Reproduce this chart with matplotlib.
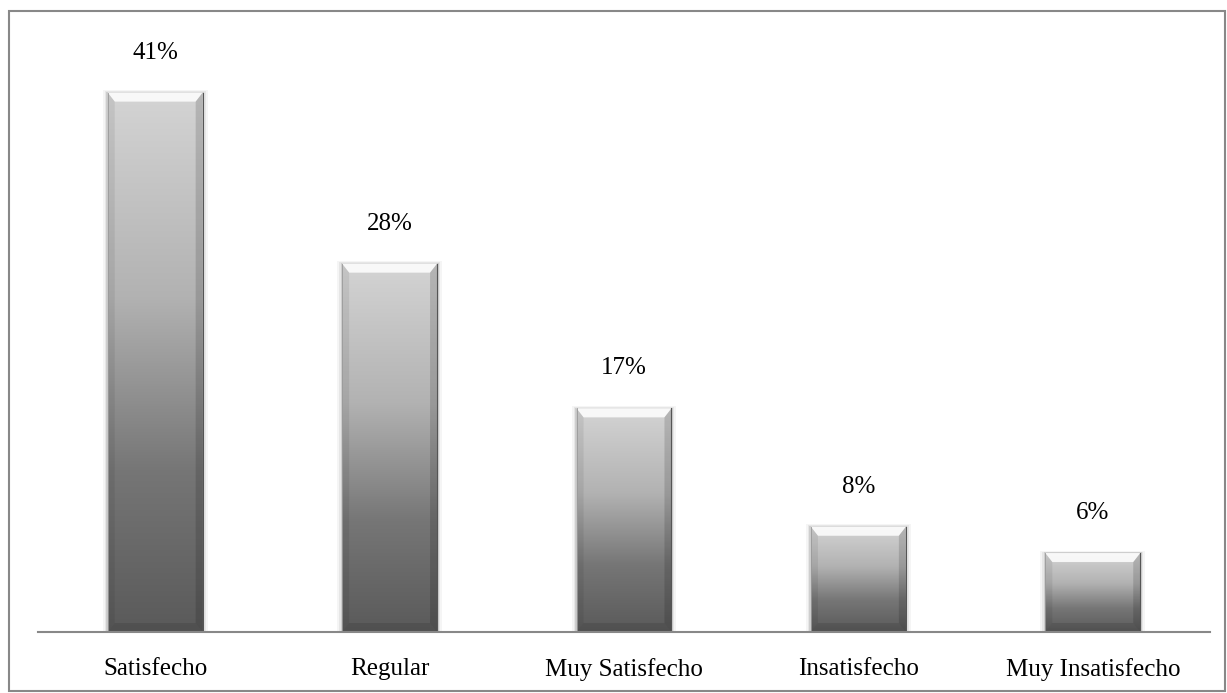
import numpy as np
import matplotlib
matplotlib.use("Agg")
from matplotlib import pyplot as plt
from matplotlib.patches import Rectangle, Polygon

categorias = ["Satisfecho", "Regular", "Muy Satisfecho", "Insatisfecho", "Muy Insatisfecho"]
porcentajes = [41, 28, 17, 8, 6]
etiquetas = ["41%", "28%", "17%", "8%", "6%"]

plt.rcParams['font.family'] = ['Liberation Serif', 'DejaVu Serif']

W, H = 1227, 693
fig = plt.figure(figsize=(W / 100, H / 100), dpi=100)

# area del grafico en pixeles: x 38..1210, y 40..632 (desde arriba)
x0, x1, ytop, ybot = 38, 1210, 40, 632
ax = fig.add_axes([x0 / W, 1 - ybot / H, (x1 - x0) / W, (ybot - ytop) / H])
ymax = 45
ax.set_xlim(-0.5, len(categorias) - 0.5)
ax.set_ylim(0, ymax)

ancho = 0.405
bars = ax.bar(range(len(categorias)), porcentajes, width=ancho, color='none')

# pixeles -> unidades de datos
px_x = len(categorias) / (x1 - x0)
px_y = ymax / (ybot - ytop)

# degradado gris vertical, claro arriba y oscuro abajo
grad = np.linspace(0, 1, 256).reshape(-1, 1)
cmap = matplotlib.colors.LinearSegmentedColormap.from_list(
    "gris", [(0, "#5a5a5a"), (0.3, "#767676"), (0.62, "#b2b2b2"), (1, "#d4d4d4")])

for b in bars:
    bx, bw, bh = b.get_x(), b.get_width(), b.get_height()
    # sombra suave
    for k, a in [(5, 0.04), (3, 0.06), (1.5, 0.10)]:
        ax.add_patch(Rectangle((bx - k * px_x, 0), bw + 2 * k * px_x, bh + k * px_y * 0.5,
                               facecolor='black', alpha=a, lw=0, zorder=1))
    ax.imshow(grad, extent=(bx, bx + bw, 0, bh), origin='lower', cmap=cmap,
              aspect='auto', zorder=2, interpolation='bicubic')
    bev_x = 7 * px_x
    bev_y = 9 * px_y
    # bisel superior (brillo)
    ax.add_patch(Polygon([(bx, bh), (bx + bw, bh), (bx + bw - bev_x, bh - bev_y),
                          (bx + bev_x, bh - bev_y)], closed=True,
                         facecolor='white', alpha=0.85, lw=0, zorder=3))
    # biseles laterales
    ax.add_patch(Polygon([(bx, bh), (bx + bev_x, bh - bev_y), (bx + bev_x, bev_y), (bx, 0)],
                         closed=True, facecolor='black', alpha=0.07, lw=0, zorder=3))
    ax.add_patch(Polygon([(bx + bw, bh), (bx + bw - bev_x, bh - bev_y),
                          (bx + bw - bev_x, bev_y), (bx + bw, 0)],
                         closed=True, facecolor='black', alpha=0.14, lw=0, zorder=3))
    # bisel inferior
    ax.add_patch(Polygon([(bx, 0), (bx + bev_x, bev_y), (bx + bw - bev_x, bev_y), (bx + bw, 0)],
                         closed=True, facecolor='black', alpha=0.10, lw=0, zorder=3))
    ax.plot([bx + bw, bx + bw], [0, bh], color='#555555', lw=0.8, zorder=4)
    ax.plot([bx, bx], [0, bh], color='#9a9a9a', lw=0.6, zorder=4)

for i, (v, t) in enumerate(zip(porcentajes, etiquetas)):
    ax.annotate(t, (i, v), xytext=(0, 24.5), textcoords='offset points',
                ha='center', va='baseline', fontsize=18, color='black')

ax.set_xticks(range(len(categorias)))
ax.set_xticklabels(categorias, fontsize=18)
ax.tick_params(axis='x', length=0, pad=19)
ax.set_yticks([])
for s in ['top', 'right', 'left']:
    ax.spines[s].set_visible(False)
ax.spines['bottom'].set_color('#888888')
ax.spines['bottom'].set_linewidth(1.5)
ax.spines['bottom'].set_zorder(5)

# marco exterior
fig.patches.append(Rectangle((8.5 / W, 1 - 691 / H), (1225 - 8.5) / W, (691 - 11) / H,
                             transform=fig.transFigure, fill=False,
                             edgecolor='#888888', lw=1.5))

fig.savefig("out.png", dpi=100)
